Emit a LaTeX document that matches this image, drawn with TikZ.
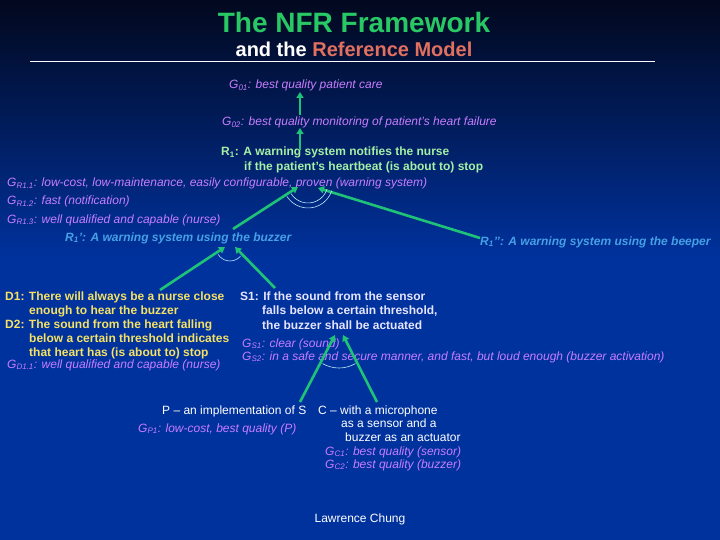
\documentclass[tikz,border=0pt]{standalone}
\usepackage{fontspec}
\setmainfont{Liberation Sans}
\usetikzlibrary{arrows.meta,calc}
\definecolor{nfrgreen}{RGB}{40,200,100}
\definecolor{refred}{RGB}{225,112,95}
\definecolor{goalpurple}{RGB}{200,125,255}
\definecolor{reqgreen}{RGB}{165,240,165}
\definecolor{altblue}{RGB}{70,160,230}
\definecolor{domyellow}{RGB}{245,225,100}
\definecolor{speclav}{RGB}{230,228,255}
\definecolor{arrgreen}{RGB}{30,195,120}
\definecolor{arcwhite}{RGB}{190,230,255}
\definecolor{bgtop}{RGB}{2,8,30}
\definecolor{bgbot}{RGB}{0,50,158}
\tikzset{
  txt/.style={anchor=base west, inner sep=0pt, align=left},
  goal/.style={txt, text=goalpurple, font=\fontsize{12}{13}\selectfont\itshape},
  req/.style={txt, text=reqgreen, font=\fontsize{12}{15}\selectfont\bfseries},
  alt/.style={txt, text=altblue, font=\fontsize{12}{14}\selectfont\bfseries\itshape},
  dom/.style={txt, text=domyellow, font=\fontsize{12}{14}\selectfont\bfseries},
  spec/.style={txt, text=speclav, font=\fontsize{12}{14.5}\selectfont\bfseries},
  impl/.style={txt, text=white, font=\fontsize{12}{13.5}\selectfont},
  arr/.style={draw=arrgreen, line width=2.6pt, -{Triangle[length=6pt,width=7pt]}},
  andarc/.style={draw=arcwhite, line width=0.6pt}
}
\begin{document}
\begin{tikzpicture}[x=1pt,y=-1pt]
  \useasboundingbox (0,0) rectangle (720,540);
  \fill[bgbot] (0,0) rectangle (720,540);
  \shade[top color=bgtop, bottom color=bgbot] (0,0) rectangle (720,260);
  % title
  \node[anchor=base, inner sep=0pt, text=nfrgreen, font=\fontsize{28}{30}\selectfont\bfseries] (title) at (354,33) {The NFR Framework};
  \node[anchor=base, inner sep=0pt, font=\fontsize{20}{22}\selectfont\bfseries] (subtitle) at (354,57)
    {\textcolor{white}{and the} \textcolor{refred}{Reference Model}};
  \draw[white, line width=0.8pt] (30,61) -- (655,61);
  % goals and requirements (multi-line nodes sit on their last baseline)
  \node[goal] (g01) at (229,89) {G\textsubscript{01}: best quality patient care};
  \node[goal] (g02) at (222,126) {G\textsubscript{02}: best quality monitoring of patient's heart failure};
  \node[req] (r1) at (221,171) {R\textsubscript{1}: A warning system notifies the nurse\\\hspace*{23pt}if the patient’s heartbeat (is about to) stop};
  \node[goal] (gr11) at (7,187) {G\textsubscript{R1.1}: low-cost, low-maintenance, easily configurable, proven (warning system)};
  \node[goal] (gr12) at (7,205) {G\textsubscript{R1.2}: fast (notification)};
  \node[goal] (gr13) at (7,223) {G\textsubscript{R1.3}: well qualified and capable (nurse)};
  \node[alt] (r1a) at (65,241) {R\textsubscript{1}’: A warning system using the buzzer};
  \node[alt] (r1b) at (480,245) {R\textsubscript{1}’’: A warning system using the beeper};
  % domain and specification
  \node[dom] (d) at (5,356) {D1: There will always be a nurse close\\\hspace*{24pt}enough to hear the buzzer\\D2: The sound from the heart falling\\\hspace*{24pt}below a certain threshold indicates\\\hspace*{24pt}that heart has (is about to) stop};
  \node[goal] (gd11) at (7,368) {G\textsubscript{D1.1}: well qualified and capable (nurse)};
  \node[spec] (s1) at (240,329) {S1: If the sound from the sensor\\\hspace*{22pt}falls below a certain threshold,\\\hspace*{22pt}the buzzer shall be actuated};
  \node[goal] (gs1) at (242,347) {G\textsubscript{S1}: clear (sound)};
  \node[goal] (gs2) at (242,360) {G\textsubscript{S2}: in a safe and secure manner, and fast, but loud enough (buzzer activation)};
  % program and computer
  \node[impl] (p) at (162,414) {P – an implementation of S};
  \node[goal] (gp1) at (138,432) {G\textsubscript{P1}: low-cost, best quality (P)};
  \node[impl] (c) at (318,441) {C – with a microphone\\\hspace*{23pt}as a sensor and a\\\hspace*{27pt}buzzer as an actuator};
  \node[goal] (gc1) at (325,455) {G\textsubscript{C1}: best quality (sensor)};
  \node[goal] (gc2) at (325,468) {G\textsubscript{C2}: best quality (buzzer)};
  \node[impl, anchor=base] (author) at (360,522) {Lawrence Chung};
  % arrow ends
  \coordinate (g01in) at (300,92);
  \coordinate (g02out) at (300,115);
  \coordinate (g02in) at (300,128);
  \coordinate (r1out) at (300,150);
  \coordinate (r1inA) at (298,187);
  \coordinate (r1inB) at (318,188);
  \coordinate (orjoin) at (308,183);
  \coordinate (r1aout) at (233,229);
  \coordinate (r1bout) at (480,238);
  \coordinate (r1ainD) at (225,247);
  \coordinate (r1ainS) at (235,247);
  \coordinate (r1ajoin) at (230,247);
  \coordinate (dout) at (160,290);
  \coordinate (s1out) at (275,288);
  \coordinate (s1inP) at (335,335);
  \coordinate (s1inC) at (343,335);
  \coordinate (s1join) at (339,335);
  \coordinate (pout) at (300,402);
  \coordinate (cout) at (377,402);
  % refinements
  \draw[arr] (g02out) -- (g01in);
  \draw[arr] (r1out) -- (g02in);
  \draw[arr] (r1aout) -- (r1inA);
  \draw[arr] (r1bout) -- (r1inB);
  \draw[andarc] ([shift={(18:20)}]orjoin) arc (18:148:20);
  \draw[andarc] ([shift={(18:25)}]orjoin) arc (18:148:25);
  \draw[arr] (dout) -- (r1ainD);
  \draw[arr] (s1out) -- (r1ainS);
  \draw[andarc] ([shift={(42:14)}]r1ajoin) arc (42:148:14);
  \draw[arr] (pout) -- (s1inP);
  \draw[arr] (cout) -- (s1inC);
  \draw[andarc] ([shift={(60:33)}]s1join) arc (60:120:33);
\end{tikzpicture}
\end{document}
